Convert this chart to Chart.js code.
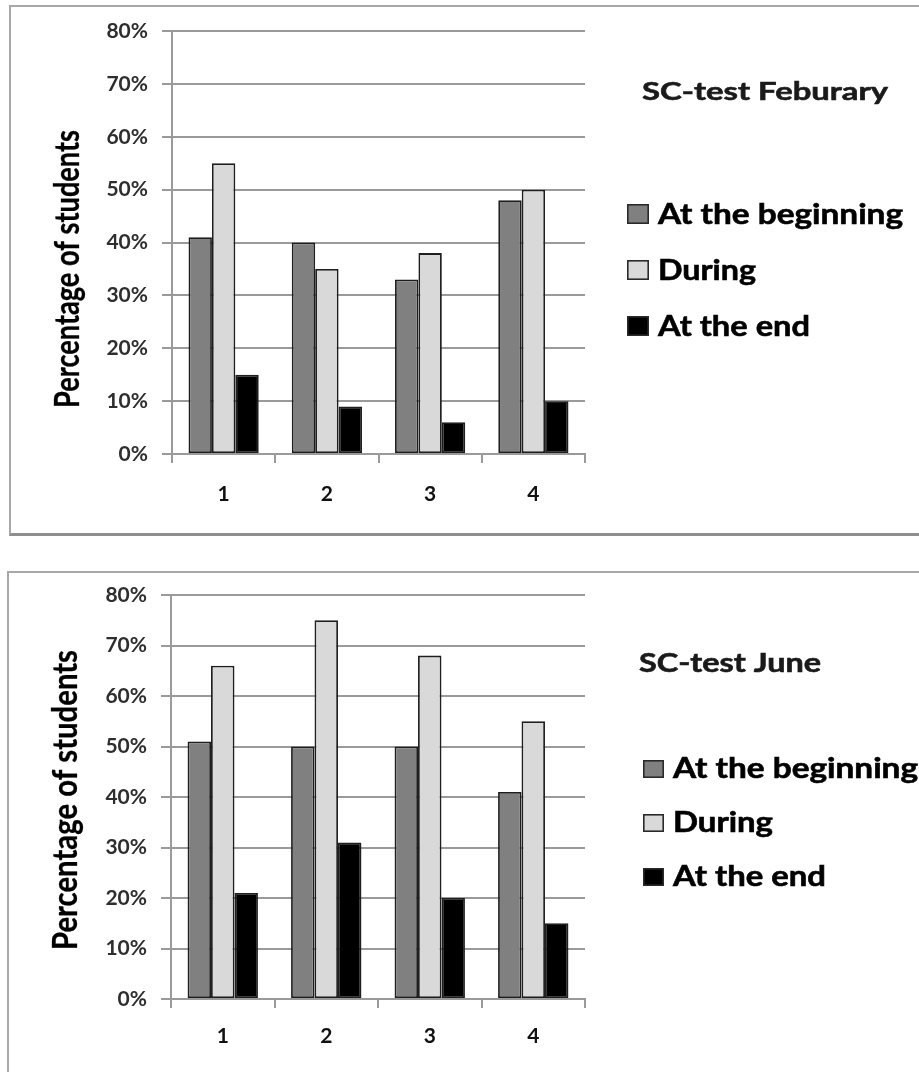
<!DOCTYPE html>
<html>
<head>
<meta charset="utf-8">
<script src="https://cdn.jsdelivr.net/npm/chart.js@4/dist/chart.umd.min.js"></script>
<style>
  html, body { margin: 0; padding: 0; background: #fff; }
  body { width: 919px; height: 1072px; position: relative; overflow: hidden; }
  .frame { position: absolute; box-sizing: border-box; }
  #frameFeb { left: 9px; top: 5px; width: 930px; height: 531px; border: 2px solid #a8a8a8; border-bottom: 3px solid #8e8e8e; }
  #frameJune { left: 7px; top: 571px; width: 930px; height: 530px; border: 2px solid #a8a8a8; }
  canvas { position: absolute; left: 0; }
  #chartFeb { top: 0; }
  #chartJune { top: 545px; }
</style>
</head>
<body>
<div class="frame" id="frameFeb"></div>
<div class="frame" id="frameJune"></div>
<canvas id="chartFeb" width="919" height="540"></canvas>
<canvas id="chartJune" width="919" height="527"></canvas>
<script>
// Categories, series and tick values
const categories = ['1', '2', '3', '4'];
const seriesNames = ['At the beginning', 'During', 'At the end'];
const seriesColors = ['#808080', '#d9d9d9', '#000000'];
const yTickValues = [0, 10, 20, 30, 40, 50, 60, 70, 80];

// SC-test Feburary (percent of students)
const febBeginning = [41, 40, 33, 48];
const febDuring = [55, 35, 38, 50];
const febEnd = [15, 9, 6, 10];

// SC-test June (percent of students)
const juneBeginning = [51, 50, 50, 41];
const juneDuring = [66, 75, 68, 55];
const juneEnd = [21, 31, 20, 15];

const FONT = 'Lato, "Open Sans", sans-serif';

// Font size giving a wanted cap height
function sizeForCap(ctx, cap) {
  ctx.font = 'bold 100px ' + FONT;
  const m = ctx.measureText('H');
  return cap * 100 / m.actualBoundingBoxAscent;
}

// Draw text with a given cap height, stretched to a given width
function drawFitted(ctx, text, x, baseline, cap, width, color, angle, stroke) {
  const size = sizeForCap(ctx, cap);
  ctx.save();
  ctx.font = 'bold ' + size.toFixed(2) + 'px ' + FONT;
  const natural = ctx.measureText(text).width;
  ctx.translate(x, baseline);
  if (angle) ctx.rotate(angle);
  ctx.scale(width / natural, 1);
  ctx.fillStyle = color;
  ctx.strokeStyle = color;
  ctx.lineWidth = stroke;
  ctx.textAlign = 'left';
  ctx.textBaseline = 'alphabetic';
  ctx.fillText(text, 0, 0);
  if (stroke > 0) ctx.strokeText(text, 0, 0);
  ctx.restore();
}

// Side panel: chart title, legend and the rotated y-axis title
const sidePanel = {
  id: 'sidePanel',
  afterDraw(chart, args, opts) {
    const ctx = chart.ctx;
    const t = opts.title;
    drawFitted(ctx, t.text, t.x, t.baseline, t.cap, t.width, '#1a1a1a', 0, 0.6);
    const lg = opts.legend;
    chart.data.datasets.forEach((ds, i) => {
      const base = lg.firstBaseline + i * lg.step;
      ctx.save();
      ctx.fillStyle = ds.backgroundColor;
      ctx.strokeStyle = '#2a2a2a';
      ctx.lineWidth = 1.6;
      ctx.fillRect(lg.boxX, base - lg.boxSize, lg.boxW, lg.boxSize);
      ctx.strokeRect(lg.boxX + 0.8, base - lg.boxSize + 0.8, lg.boxW - 1.6, lg.boxSize - 1.6);
      ctx.restore();
      drawFitted(ctx, ds.label, lg.textX, base, lg.cap, lg.widths[i], '#000', 0, 0.6);
    });
    const yt = opts.yTitle;
    drawFitted(ctx, yt.text, yt.baselineX, yt.startY, yt.cap, yt.length, '#000', -Math.PI / 2, 0.3);
  }
};

function makeChart(id, values, layout) {
  const canvas = document.getElementById(id);
  const H = canvas.height;
  return new Chart(canvas, {
    type: 'bar',
    data: {
      labels: categories,
      datasets: values.map((v, i) => ({
        label: seriesNames[i],
        data: v,
        backgroundColor: seriesColors[i],
        borderColor: '#1e1e1e',
        borderWidth: 1.8,
        borderSkipped: false,
        categoryPercentage: 0.68,
        barPercentage: 1.0
      }))
    },
    options: {
      responsive: false,
      devicePixelRatio: 1,
      animation: false,
      layout: { padding: { left: 0, top: layout.top, right: 919 - layout.right, bottom: 0 } },
      plugins: {
        legend: { display: false },
        tooltip: { enabled: false },
        sidePanel: layout.panel
      },
      scales: {
        x: {
          offset: true,
          grid: { display: true, drawOnChartArea: false, drawTicks: true, tickLength: 9, color: '#9a9a9a', lineWidth: 2 },
          border: { display: true, color: '#9a9a9a', width: 2 },
          ticks: { color: '#111', padding: layout.xPad, font: { family: FONT, size: 21, weight: 'bold' } },
          afterFit(scale) { scale.height = H - layout.bottom; }
        },
        y: {
          min: yTickValues[0],
          max: yTickValues[yTickValues.length - 1],
          afterBuildTicks(scale) { scale.ticks = yTickValues.map(v => ({ value: v })); },
          grid: { color: '#9a9a9a', lineWidth: 2, tickLength: 10, drawTicks: true },
          border: { display: true, color: '#9a9a9a', width: 2 },
          ticks: {
            color: '#2e2e2e',
            padding: 14,
            font: { family: FONT, size: 21, weight: 'bold' },
            callback: v => v + '%'
          },
          afterFit(scale) { scale.width = layout.left; }
        }
      }
    },
    plugins: [sidePanel]
  });
}

makeChart('chartFeb', [febBeginning, febDuring, febEnd], {
  left: 172, right: 585, top: 31, bottom: 454, xPad: 19,
  panel: {
    title: { text: 'SC-test Feburary', x: 642, baseline: 100, cap: 18.5, width: 246 },
    legend: { boxX: 627, boxW: 22, boxSize: 20, textX: 658, firstBaseline: 224, step: 56, cap: 21.5, widths: [245, 98, 152] },
    yTitle: { text: 'Percentage of students', baselineX: 79, startY: 408, cap: 25, length: 278 }
  }
});

makeChart('chartJune', [juneBeginning, juneDuring, juneEnd], {
  left: 171, right: 585, top: 50, bottom: 454, xPad: 16,
  panel: {
    title: { text: 'SC-test June', x: 639, baseline: 672 - 545, cap: 19, width: 182 },
    legend: { boxX: 643, boxW: 21, boxSize: 18, textX: 673, firstBaseline: 778 - 545, step: 54, cap: 20.5, widths: [245, 100, 153] },
    yTitle: { text: 'Percentage of students', baselineX: 77, startY: 950 - 545, cap: 25, length: 300 }
  }
});
</script>
</body>
</html>
